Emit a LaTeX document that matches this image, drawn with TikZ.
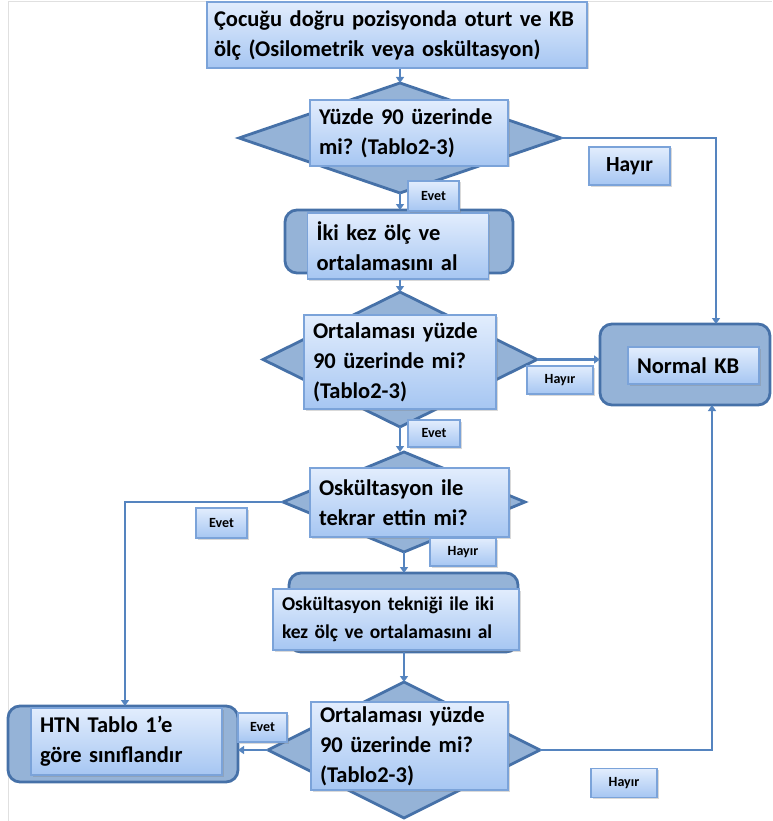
\documentclass[tikz,border=0pt]{standalone}
\usepackage{fontspec}
\setmainfont{Carlito}
\usepackage{tikz}
\usetikzlibrary{shapes}
\usetikzlibrary{arrows.meta}
\usetikzlibrary{shadows}
\usetikzlibrary{calc}
\frenchspacing
\definecolor{kararic}{HTML}{95B3D7}
\definecolor{kararcizgi}{HTML}{4671A8}
\definecolor{kutuust}{HTML}{E2EDFD}
\definecolor{kutualt}{HTML}{A6C6F2}
\definecolor{kutucizgi}{HTML}{7BA3D9}
\definecolor{okrenk}{HTML}{5584BF}
\tikzstyle{kutu}=[
        rectangle,
        draw=kutucizgi,
        line width=1.3pt,
        top color=kutuust,
        bottom color=kutualt,
        drop shadow={opacity=0.3,shadow xshift=1.5pt,shadow yshift=-1.5pt},
        inner xsep=9pt,
        inner ysep=0pt,
        align=left,
        font=\bfseries\fontsize{22.5}{30}\selectfont
]
\tikzstyle{etiket}=[kutu,inner sep=0pt,align=center,font=\bfseries\fontsize{14}{16}\selectfont]
\tikzstyle{karar}=[diamond,draw=kararcizgi,fill=kararic,line width=2.8pt,inner sep=0pt,outer sep=0pt]
\tikzstyle{cerceve}=[rectangle,rounded corners=12pt,draw=kararcizgi,fill=kararic,line width=2.8pt,inner sep=0pt,outer sep=0pt]
\tikzstyle{ok}=[-{Triangle[length=6pt,width=8pt]},draw=okrenk,line width=2.3pt]

\begin{document}
\begin{tikzpicture}[x=1pt,y=-1pt]
\useasboundingbox (0,0) rectangle (772,821);
\draw[black!12,line width=0.8pt] (8,821) -- (8,1) -- (772,1);
% kararlar ve cerceveler
\node[karar,minimum width=322pt,minimum height=110pt] (d1) at (400,138) {};
\node[cerceve,minimum width=228pt,minimum height=63pt] (c2) at (399,241.5) {};
\node[karar,minimum width=274pt,minimum height=135pt] (d2) at (400,359.5) {};
\node[cerceve,minimum width=170pt,minimum height=81pt] (nkb) at (685,364.5) {};
\node[karar,minimum width=242pt,minimum height=100pt] (d3) at (404,502) {};
\node[cerceve,minimum width=229pt,minimum height=79pt] (c4) at (403.5,612.5) {};
\node[karar,minimum width=272pt,minimum height=136pt] (d4) at (404,750) {};
\node[cerceve,minimum width=230pt,minimum height=76pt] (htn) at (123,744) {};
% kutular
\node[kutu,text width=366pt,minimum height=66pt,inner xsep=7pt] (basla) at (397,35) {Çocuğu doğru pozisyonda oturt ve KB\\ölç (Osilometrik veya oskültasyon)};
\node[kutu,text width=180pt,minimum height=66pt] (q1) at (409,133) {Yüzde 90 üzerinde\\mi? (Tablo2-3)};
\node[kutu,text width=163pt,minimum height=66pt] (b2) at (398,246) {İki kez ölç ve\\ortalamasını al};
\node[kutu,text width=174pt,minimum height=94pt] (q2) at (400,362) {Ortalaması yüzde\\90 üzerinde mi?\\(Tablo2-3)};
\node[kutu,text width=113pt,minimum height=37pt] (nk) at (693.5,365.5) {Normal KB};
\node[kutu,text width=181pt,minimum height=69pt] (q3) at (409.5,502.5) {Oskültasyon ile\\tekrar ettin mi?};
\node[kutu,text width=228pt,minimum height=61pt,font=\bfseries\fontsize{19.5}{28}\selectfont] (b4) at (396,619.5) {Oskültasyon tekniği ile iki\\kez ölç ve ortalamasını al};
\node[kutu,text width=179pt,minimum height=88pt] (q4) at (409.5,746) {Ortalaması yüzde\\90 üzerinde mi?\\(Tablo2-3)};
\node[kutu,text width=173pt,minimum height=67pt] (h) at (126.5,741.5) {HTN Tablo 1’e\\göre sınıflandır};
% oklar
\coordinate (k1) at (716,138);
\coordinate (k3) at (125,502);
\coordinate (k4) at (712,750);
\draw[ok] (basla.south -| d1.north) -- (d1.north);
\draw[ok] (d1.south) -- (d1.south |- c2.north);
\draw[ok] (d1.east) -- (k1) -- (k1 |- nkb.north);
\draw[ok] (b2.south -| d2.north) -- (d2.north);
\draw[ok] (d2.east) -- (d2.east -| nkb.west);
\draw[ok] (d2.south) -- (d2.south |- d3.north);
\draw[ok] (d3.west) -- (k3) -- (k3 |- htn.north);
\draw[ok] (d3.south) -- (d3.south |- c4.north);
\draw[ok] (c4.south -| d4.north) -- (d4.north);
\draw[ok] (d4.west) -- (d4.west -| htn.east);
\draw[ok] (d4.east) -- (k4) -- (k4 |- nkb.south);
% etiketler
\node[etiket,minimum width=51pt,minimum height=30pt] (e1) at (433.5,196) {Evet};
\node[etiket,minimum width=81pt,minimum height=38pt,font=\bfseries\fontsize{21.5}{24}\selectfont] (h1) at (629.5,166) {Hayır};
\node[etiket,minimum width=66pt,minimum height=28pt] (h2) at (560,380) {Hayır};
\node[etiket,minimum width=52pt,minimum height=27pt] (e2) at (434,433.5) {Evet};
\node[etiket,minimum width=51pt,minimum height=30pt] (e3) at (221.5,523) {Evet};
\node[etiket,minimum width=66pt,minimum height=28pt] (h3) at (463,552) {Hayır};
\node[etiket,minimum width=49pt,minimum height=29pt] (e4) at (262.5,727.5) {Evet};
\node[etiket,minimum width=66pt,minimum height=29pt] (h4) at (624,783) {Hayır};
\end{tikzpicture}
\end{document}
